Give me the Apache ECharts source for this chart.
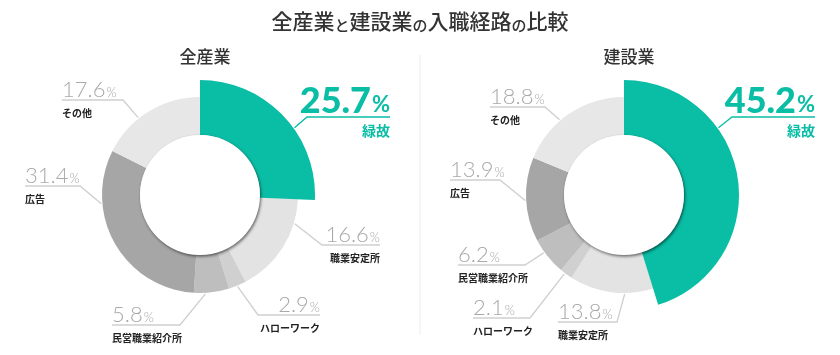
<!DOCTYPE html>
<html><head><meta charset="utf-8">
<script src="https://cdn.jsdelivr.net/npm/echarts@6/dist/echarts.min.js"></script>
<style>html,body{margin:0;padding:0;background:#fff}#c{width:840px;height:355px}</style>
</head><body><div id="c"></div>
<script>
// ---- data ----
const TITLE_PARTS = [['k','全産業'],['s','と'],['k','建設業'],['s','の'],['k','入職経路'],['s','の'],['k','比較']];
const PANEL_TITLES = ['全産業', '建設業'];
const CATEGORIES = ['緑故', '職業安定所', 'ハローワーク', '民営職業紹介所', '広告', 'その他'];
const ALL_INDUSTRY = [25.7, 16.6, 2.9, 5.8, 31.4, 17.6];
const CONSTRUCTION = [45.2, 13.8, 2.1, 6.2, 13.9, 18.8];

// ---- styling / layout ----
const TEAL = '#0abda5';
const GREYS = [TEAL, '#e3e3e3', '#d0d0d0', '#bebebe', '#a6a6a6', '#e7e7e7'];
const NUM_FONT = 'Lato, "Noto Sans", sans-serif';
const JP_FONT = '"Noto Sans CJK JP", sans-serif';
const CENTERS = [[200, 195], [624, 195]];
const R_IN = 60, R_OUT = 98, R_HI = 115;
// label placement: at = fraction along slice arc for line start, e = elbow offset from center, end = x offset of line end
const LABELS = [
  [ {at:0.59, e:[107,-78], end:190},
    {at:0.24, e:[122,50], end:180},
    {at:0.51, e:[58,120], end:120},
    {at:0.68, e:[-20,130], end:-88},
    {at:0.72, e:[-120,-9], end:-175},
    {at:0.39, e:[-77,-95], end:-138} ],
  [ {at:0.335, e:[108,-78], end:191},
    {at:0.34, e:[-7,127], end:-66},
    {at:0.62, e:[-94,123], end:-151},
    {at:0.64, e:[-99,70], end:-166},
    {at:0.49, e:[-124,-15], end:-174},
    {at:0.40, e:[-79,-88], end:-134} ]
];

function sliceAngles(values) {
  const tot = values.reduce((a, b) => a + b, 0);
  let acc = 0;
  return values.map(v => { const a0 = acc / tot * 360; acc += v; return [a0, acc / tot * 360]; });
}

function makeLayout(p, values) {
  const ang = sliceAngles(values);
  const [cx, cy] = CENTERS[p];
  return function (params) {
    const i = params.dataIndex;
    const L = LABELS[p][i];
    const isHi = i === 0;
    const r = (isHi ? R_HI : R_OUT) + 1;
    const a = (ang[i][0] + L.at * (ang[i][1] - ang[i][0])) * Math.PI / 180;
    const sx = cx + r * Math.sin(a), sy = cy - r * Math.cos(a);
    const ex = cx + L.e[0], ey = cy + L.e[1];
    const endX = cx + L.end;
    const align = endX > ex ? 'right' : 'left';
    return {
      x: endX,
      y: ey - (isHi ? 34 : 21),
      align: align,
      verticalAlign: 'top',
      labelLinePoints: [[sx, sy], [ex, ey], [endX, ey]]
    };
  };
}

const richGrey = {
  v: {fontFamily: NUM_FONT, fontSize: 22, fontWeight: 300, color: '#a9a9a9', lineHeight: 22, verticalAlign: 'bottom'},
  p: {fontFamily: NUM_FONT, fontSize: 13, fontWeight: 300, color: '#a9a9a9', lineHeight: 13, verticalAlign: 'bottom', padding: [0, 0, 2, 1]},
  n: {fontFamily: JP_FONT, fontSize: 10, fontWeight: 'bold', color: '#222', lineHeight: 24}
};
const richTeal = {
  v: {fontFamily: NUM_FONT, fontSize: 36, fontWeight: 900, color: TEAL, lineHeight: 36, verticalAlign: 'bottom'},
  p: {fontFamily: NUM_FONT, fontSize: 22, fontWeight: 700, color: TEAL, lineHeight: 22, verticalAlign: 'bottom', padding: [0, 0, 3, 1]},
  n: {fontFamily: JP_FONT, fontSize: 14, fontWeight: 'bold', color: TEAL, lineHeight: 24}
};

function fmt(params) {
  return '{v|' + params.value.toFixed(1) + '}{p|%}\n{n|' + params.name + '}';
}

const series = [];
[ALL_INDUSTRY, CONSTRUCTION].forEach((values, p) => {
  const center = CENTERS[p];
  // grey ring
  series.push({
    type: 'pie', center: center, radius: [R_IN, R_OUT], startAngle: 90, clockwise: true,
    silent: true, animation: false, avoidLabelOverlap: false,
    data: values.map((v, i) => ({
      name: CATEGORIES[i], value: v,
      itemStyle: {color: i === 0 ? 'rgba(0,0,0,0)' : GREYS[i]},
      label: {show: i !== 0},
      labelLine: {show: i !== 0}
    })),
    label: {position: 'outside', formatter: fmt, rich: richGrey},
    labelLine: {show: true, lineStyle: {color: '#cfcfcf', width: 1.3}},
    labelLayout: makeLayout(p, values)
  });
  // highlighted (teal) slice
  series.push({
    type: 'pie', center: center, radius: [R_IN, R_HI], startAngle: 90, clockwise: true,
    silent: true, animation: false, avoidLabelOverlap: false,
    data: values.map((v, i) => ({
      name: CATEGORIES[i], value: v,
      itemStyle: {color: i === 0 ? TEAL : 'rgba(0,0,0,0)'},
      label: {show: i === 0},
      labelLine: {show: i === 0}
    })),
    label: {position: 'outside', formatter: fmt, rich: richTeal},
    labelLine: {show: true, lineStyle: {color: TEAL, width: 1.3}},
    labelLayout: makeLayout(p, values)
  });
  // inner white disc with soft shadow
  series.push({
    type: 'pie', center: center, radius: [0, R_IN], silent: true, animation: false,
    label: {show: false}, labelLine: {show: false},
    data: [{value: 1, itemStyle: {color: '#fff', shadowColor: 'rgba(0,0,0,0.55)', shadowBlur: 3, shadowOffsetX: 1, shadowOffsetY: 1.5}}]
  });
});

const chart = echarts.init(document.getElementById('c'), null, {renderer: 'canvas'});
chart.setOption({
  backgroundColor: '#fff',
  title: [
    {
      text: TITLE_PARTS.map(([s, t]) => '{' + s + '|' + t + '}').join(''),
      left: 'center', top: 4,
      textStyle: {rich: {
        k: {fontFamily: JP_FONT, fontSize: 21, fontWeight: 500, color: '#333'},
        s: {fontFamily: JP_FONT, fontSize: 15, fontWeight: 500, color: '#333', verticalAlign: 'bottom', lineHeight: 24}
      }}
    },
    {text: PANEL_TITLES[0], left: CENTERS[0][0], top: 43, textAlign: 'center',
     textStyle: {fontFamily: JP_FONT, fontSize: 17, fontWeight: 500, color: '#333'}},
    {text: PANEL_TITLES[1], left: CENTERS[1][0], top: 43, textAlign: 'center',
     textStyle: {fontFamily: JP_FONT, fontSize: 17, fontWeight: 500, color: '#333'}}
  ],
  graphic: [{type: 'line', shape: {x1: 420, y1: 55, x2: 420, y2: 335}, style: {stroke: '#ececec', lineWidth: 1}, silent: true}],
  series: series
});
</script></body></html>
